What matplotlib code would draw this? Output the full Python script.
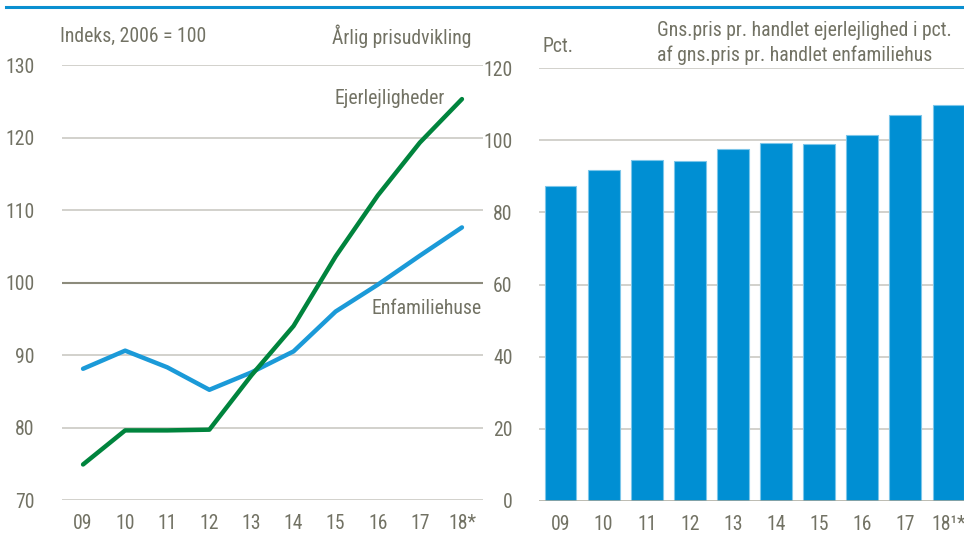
import matplotlib
matplotlib.use("Agg")
import matplotlib.pyplot as plt
from matplotlib import font_manager

years = ["09", "10", "11", "12", "13", "14", "15", "16", "17", "18*"]
bar_years = ["09", "10", "11", "12", "13", "14", "15", "16", "17", "18¹*"]
enfamiliehuse = [88.1, 90.6, 88.3, 85.2, 87.6, 90.5, 96.0, 99.7, 103.7, 107.6]
ejerlejligheder = [74.9, 79.6, 79.6, 79.7, 87.2, 94.0, 103.6, 112.0, 119.3, 125.3]
ratio = [87.2, 91.9, 94.6, 94.3, 97.7, 99.3, 98.9, 101.4, 107.1, 109.8]

names = {f.name for f in font_manager.fontManager.ttflist}
narrow = [n for n in ["Liberation Sans Narrow", "Arial Narrow", "Roboto Condensed",
                      "DejaVu Sans Condensed", "Open Sans Condensed"] if n in names]
if narrow:
    fam = [narrow[0]]
    FS = 14.2
else:
    fam = ["Liberation Sans"]
    FS = 12.5
plt.rcParams["font.family"] = fam + ["DejaVu Sans"]

TXT = "#727264"
GRID = "#cfcec8"
BLUE = "#1b9ad8"
GREEN = "#00843d"
BAR = "#008fd3"

W, H = 964, 539
fig = plt.figure(figsize=(W / 100, H / 100), dpi=100)

def frac(x0, y0, x1, y1):
    return [x0 / W, 1 - y1 / H, (x1 - x0) / W, (y1 - y0) / H]

# top blue rule
fig.add_artist(plt.Line2D([6 / W, 1], [1 - 7 / H, 1 - 7 / H], color="#0a8fd0", lw=2.2))

# ---------- left panel ----------
ax = fig.add_axes(frac(62, 65, 483, 500))
x = list(range(len(years)))
ax.set_xlim(-0.5, 9.5)
ax.set_ylim(70, 130)
for v in [70, 80, 90, 110, 120, 130]:
    ax.axhline(v, color=GRID, lw=1.3, zorder=0)
ax.axhline(100, color="#8c8b7c", lw=1.5, zorder=0)
ax.plot(x, enfamiliehuse, color=BLUE, lw=3.2, solid_capstyle="round", zorder=3)
ax.plot(x, ejerlejligheder, color=GREEN, lw=3.2, solid_capstyle="round", zorder=4)
for s in ax.spines.values():
    s.set_visible(False)
ax.set_yticks([70, 80, 90, 100, 110, 120, 130])
ax.set_xticks(x)
ax.set_xticklabels(years)
ax.tick_params(axis="both", length=0, colors=TXT, labelsize=FS)
ax.tick_params(axis="y", pad=20)
ax.tick_params(axis="x", pad=10)

# ---------- right panel ----------
ax2 = fig.add_axes(frac(539, 68.3, 970, 500.7))
ax2.set_xlim(-0.5, 9.5)
ax2.set_ylim(0, 120)
for v in [20, 40, 60, 80, 100, 120]:
    ax2.axhline(v, color=GRID, lw=1.3, zorder=0)
ax2.bar(range(len(bar_years)), ratio, width=0.74, color=BAR, edgecolor="#7cc6ea",
        linewidth=0.8, zorder=3)
for s in ax2.spines.values():
    s.set_visible(False)
ax2.axhline(0, color="#a9a89a", lw=1.8, zorder=4)
ax2.set_yticks([0, 20, 40, 60, 80, 100, 120])
ax2.set_xticks(range(len(bar_years)))
ax2.set_xticklabels(bar_years)
ax2.tick_params(axis="both", length=0, colors=TXT, labelsize=FS)
ax2.tick_params(axis="y", pad=19)
ax2.tick_params(axis="x", pad=10)

# ---------- texts ----------
def ftext(px, py, s, ha="left", va="center"):
    fig.text(px / W, 1 - py / H, s, ha=ha, va=va, fontsize=FS, color=TXT)

ftext(60, 36, "Indeks, 2006 = 100")
ftext(471, 36, "Årlig prisudvikling", ha="right")
ftext(335, 98, "Ejerlejligheder")
ftext(482, 308, "Enfamiliehuse", ha="right")
ftext(543, 46, "Pct.")
ftext(657, 31, "Gns.pris pr. handlet ejerlejlighed i pct.")
ftext(657, 55, "af gns.pris pr. handlet enfamiliehus")

fig.savefig("out.png", dpi=100)
